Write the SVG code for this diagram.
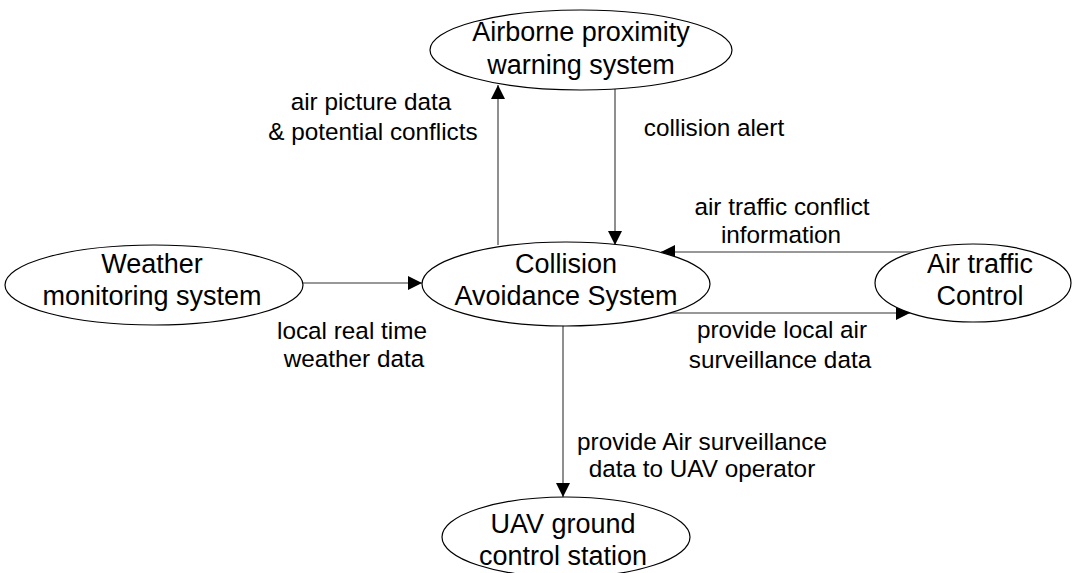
<svg xmlns="http://www.w3.org/2000/svg" width="1077" height="573" viewBox="0 0 1077 573">
<style>
.node ellipse{fill:#fff;stroke:#000;stroke-width:1.2}
.node text{font-family:"Liberation Sans",Arial,sans-serif;font-size:27px;fill:#000;text-anchor:middle}
.lbl{font-family:"Liberation Sans",Arial,sans-serif;font-size:24.3px;fill:#000;text-anchor:middle}
.conn line{stroke:#333;stroke-width:1.1;marker-end:url(#arr)}
</style>
<defs>
<marker id="arr" markerUnits="userSpaceOnUse" markerWidth="14" markerHeight="14" refX="14" refY="7" orient="auto">
<path d="M0,0 L14,7 L0,14 z" fill="#000"/>
</marker>
</defs>
<rect width="1077" height="573" fill="#fff"/>
<g id="connectors" class="conn">
<line x1="498" y1="245" x2="498" y2="85"/>
<line x1="615" y1="89" x2="615" y2="245"/>
<line x1="303" y1="283" x2="422" y2="283"/>
<line x1="915" y1="252" x2="661" y2="252"/>
<line x1="668" y1="313" x2="910" y2="313"/>
<line x1="563" y1="326" x2="563" y2="497"/>
</g>
<g id="node-airborne" class="node">
<ellipse cx="581" cy="50" rx="151" ry="40"/>
<text x="581" y="41">Airborne proximity</text>
<text x="581" y="74">warning system</text>
</g>
<g id="node-cas" class="node">
<ellipse cx="566" cy="284" rx="144" ry="42"/>
<text x="566" y="273">Collision</text>
<text x="566" y="305">Avoidance System</text>
</g>
<g id="node-weather" class="node">
<ellipse cx="154" cy="285" rx="149" ry="40"/>
<text x="152" y="273">Weather</text>
<text x="152" y="305">monitoring system</text>
</g>
<g id="node-atc" class="node">
<ellipse cx="973" cy="283" rx="98" ry="39"/>
<text x="980" y="273">Air traffic</text>
<text x="980" y="305">Control</text>
</g>
<g id="node-uav" class="node">
<ellipse cx="566" cy="537" rx="124" ry="40"/>
<text x="563" y="533">UAV ground</text>
<text x="563" y="565">control station</text>
</g>
<g id="labels">
<text class="lbl" x="371" y="110">air picture data</text>
<text class="lbl" x="373" y="140">&amp; potential conflicts</text>
<text class="lbl" x="714" y="136">collision alert</text>
<text class="lbl" x="782" y="215">air traffic conflict</text>
<text class="lbl" x="781" y="243">information</text>
<text class="lbl" x="352" y="339">local real time</text>
<text class="lbl" x="354" y="367">weather data</text>
<text class="lbl" x="782" y="338">provide local air</text>
<text class="lbl" x="780" y="368">surveillance data</text>
<text class="lbl" x="702" y="450">provide Air surveillance</text>
<text class="lbl" x="702" y="477">data to UAV operator</text>
</g>
</svg>
